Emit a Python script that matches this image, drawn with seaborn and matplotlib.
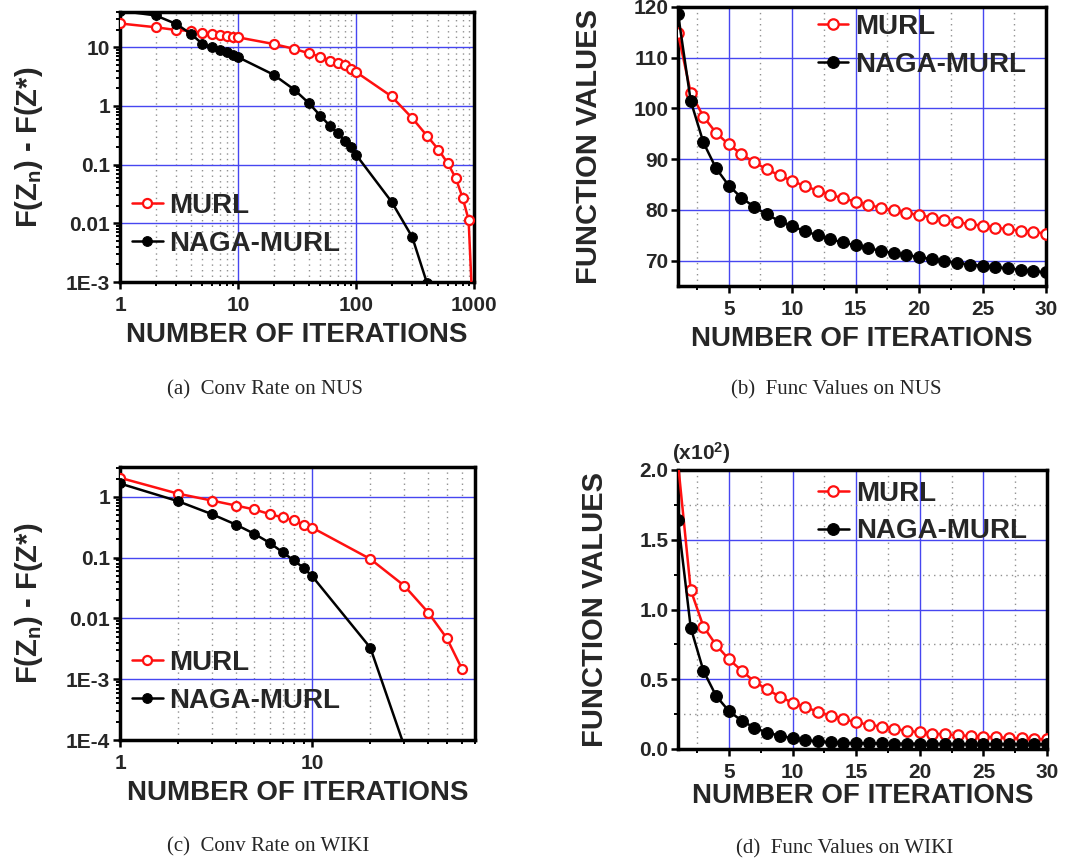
import matplotlib
matplotlib.use("Agg")
import matplotlib.pyplot as plt
import matplotlib.ticker as mticker
import pandas as pd
import seaborn as sns

# ---------------- data ----------------
# (a) NUS: objective gap vs. iteration (log-log)
nus_gap_iters_murl = [1, 2, 3, 4, 5, 6, 7, 8, 9, 10, 20, 30, 40, 50, 60, 70, 80, 90, 100,
                      200, 300, 400, 500, 600, 700, 800, 900, 1000]
nus_gap_murl = [25.5, 22, 19.7, 19, 17.6, 16.9, 16, 15.4, 15.2, 14.8, 11.4, 9.4, 7.9, 6.9,
                5.9, 5.4, 4.9, 4.3, 3.8, 1.46, 0.62, 0.31, 0.18, 0.105, 0.059, 0.0275,
                0.0115, 1e-4]
nus_gap_iters_naga = [1, 2, 3, 4, 5, 6, 7, 8, 9, 10, 20, 30, 40, 50, 60, 70, 80, 90, 100,
                      200, 300, 400]
nus_gap_naga = [42, 35, 25, 16.9, 11.4, 10, 9, 8.2, 7.5, 6.8, 3.42, 1.9, 1.11, 0.68, 0.46,
                0.34, 0.257, 0.2, 0.148, 0.0234, 0.0058, 0.00095]

# (b) NUS: objective value per iteration
func_iters = list(range(1, 31))
nus_func_murl = [114.8, 103.1, 98.4, 95.2, 92.9, 91.0, 89.4, 88.0, 86.8, 85.7, 84.7, 83.8,
                 83.0, 82.3, 81.6, 81.0, 80.4, 79.9, 79.4, 79.0, 78.5, 78.0, 77.6, 77.2,
                 76.9, 76.5, 76.2, 75.9, 75.7, 75.3]
nus_func_naga = [118.7, 101.5, 93.3, 88.2, 84.8, 82.4, 80.6, 79.1, 77.8, 76.8, 75.8, 75.0,
                 74.2, 73.6, 73.0, 72.5, 71.9, 71.5, 71.1, 70.7, 70.3, 69.9, 69.6, 69.2,
                 69.0, 68.7, 68.5, 68.2, 67.9, 67.7]

# (c) WIKI: objective gap vs. iteration (log-log)
wiki_gap_iters_murl = [1, 2, 3, 4, 5, 6, 7, 8, 9, 10, 20, 30, 40, 50, 60]
wiki_gap_murl = [2.06, 1.13, 0.87, 0.72, 0.62, 0.52, 0.46, 0.41, 0.35, 0.31, 0.095, 0.0346,
                 0.0125, 0.0047, 0.00146]
wiki_gap_iters_naga = [1, 2, 3, 4, 5, 6, 7, 8, 9, 10, 20, 30]
wiki_gap_naga = [1.66, 0.85, 0.52, 0.35, 0.246, 0.175, 0.123, 0.090, 0.068, 0.049, 0.0033,
                 8e-5]

# (d) WIKI: objective value per iteration, in units of 10^2
wiki_func_murl = [2.05, 1.14, 0.877, 0.745, 0.643, 0.562, 0.483, 0.428, 0.375, 0.332, 0.299,
                  0.268, 0.239, 0.215, 0.191, 0.174, 0.160, 0.143, 0.131, 0.119, 0.110,
                  0.105, 0.098, 0.093, 0.088, 0.084, 0.079, 0.076, 0.072, 0.069]
wiki_func_naga = [1.64, 0.87, 0.56, 0.38, 0.272, 0.203, 0.153, 0.117, 0.096, 0.076, 0.062,
                  0.055, 0.048, 0.043, 0.042, 0.041, 0.040, 0.039, 0.038, 0.038, 0.037,
                  0.037, 0.036, 0.036, 0.035, 0.035, 0.035, 0.034, 0.034, 0.034]

series_names = ["MURL", "NAGA-MURL"]
gap_ticks_nus = [1e-3, 1e-2, 1e-1, 1, 10]
gap_ticklabels_nus = ["1E-3", "0.01", "0.1", "1", "10"]
gap_ticks_wiki = [1e-4, 1e-3, 1e-2, 1e-1, 1]
gap_ticklabels_wiki = ["1E-4", "1E-3", "0.01", "0.1", "1"]
iter_ticks_nus = [1, 10, 100, 1000]
iter_ticks_wiki = [1, 10]
captions = ["(a)  Conv Rate on NUS", "(b)  Func Values on NUS",
            "(c)  Conv Rate on WIKI", "(d)  Func Values on WIKI"]

# ---------------- style ----------------
sns.set_theme(style="white")
plt.rcParams["font.family"] = ["Liberation Sans", "DejaVu Sans"]
plt.rcParams["font.weight"] = "bold"
plt.rcParams["mathtext.fontset"] = "custom"
plt.rcParams["mathtext.rm"] = "Liberation Sans:bold"
plt.rcParams["mathtext.bf"] = "Liberation Sans:bold"
plt.rcParams["mathtext.it"] = "Liberation Sans:bold"

RED = "#ff1010"
BLUE = "#4646f0"
TICK_FS = 15
LABEL_FS = 20
LEG_FS = 20

fig = plt.figure(figsize=(10.78, 8.65), dpi=100)
W, H = 1078.0, 865.0


def add_axes(left, top, right, bottom):
    return fig.add_axes([left / W, 1 - bottom / H, (right - left) / W, (bottom - top) / H])


ax_a = add_axes(120, 12, 474, 282)
ax_b = add_axes(678, 7, 1046, 286)
ax_c = add_axes(120, 467, 475, 740)
ax_d = add_axes(678, 470, 1047, 749)


def draw_pair(ax, x1, y1, x2, y2, ms_red, ms_black):
    df1 = pd.DataFrame({"iter": x1, "val": y1})
    df2 = pd.DataFrame({"iter": x2, "val": y2})
    sns.lineplot(data=df1, x="iter", y="val", ax=ax, color=RED, lw=1.8, marker="o",
                 markersize=ms_red, markerfacecolor="white", markeredgecolor=RED,
                 markeredgewidth=1.6, label=series_names[0], zorder=4)
    sns.lineplot(data=df2, x="iter", y="val", ax=ax, color="black", lw=1.8, marker="o",
                 markersize=ms_black, markerfacecolor="black", markeredgecolor="black",
                 label=series_names[1], zorder=5)


def style_axes(ax):
    for s in ax.spines.values():
        s.set_visible(True)
        s.set_linewidth(2.5)
        s.set_color("black")
    ax.tick_params(which="major", direction="out", length=5, width=1.8, color="black",
                   labelsize=TICK_FS, top=False, right=False, left=True, bottom=True)
    ax.tick_params(axis="y", which="major", pad=2)
    ax.tick_params(axis="x", which="major", pad=5)
    ax.tick_params(which="minor", direction="out", length=3, width=1.4, color="black",
                   top=False, right=False, left=True, bottom=True)
    for lab in ax.get_xticklabels() + ax.get_yticklabels():
        lab.set_fontweight("bold")
    ax.set_axisbelow(True)
    ax.grid(which="major", color=BLUE, lw=1.0, ls="-")


def legend(ax, anchor):
    leg = ax.legend(loc="upper left", bbox_to_anchor=anchor, frameon=False,
                    prop={"size": LEG_FS, "weight": "bold"}, handlelength=1.1,
                    handletextpad=0.25, labelspacing=0.42, borderpad=0, borderaxespad=0)
    return leg


# (a)
draw_pair(ax_a, nus_gap_iters_murl, nus_gap_murl, nus_gap_iters_naga, nus_gap_naga, 6.5, 7)
ax_a.set_xscale("log")
ax_a.set_yscale("log")
ax_a.set_xlim(1, 1000)
ax_a.set_ylim(1e-3, 40)
ax_a.xaxis.set_major_locator(mticker.FixedLocator(iter_ticks_nus))
ax_a.xaxis.set_major_formatter(mticker.FixedFormatter([str(t) for t in iter_ticks_nus]))
ax_a.yaxis.set_major_locator(mticker.FixedLocator(gap_ticks_nus))
ax_a.yaxis.set_major_formatter(mticker.FixedFormatter(gap_ticklabels_nus))
ax_a.xaxis.set_minor_locator(mticker.LogLocator(subs=range(2, 10), numticks=20))
ax_a.yaxis.set_minor_locator(mticker.LogLocator(subs=range(2, 10), numticks=20))
ax_a.xaxis.set_minor_formatter(mticker.NullFormatter())
ax_a.yaxis.set_minor_formatter(mticker.NullFormatter())
style_axes(ax_a)
ax_a.grid(which="minor", axis="x", color="#909090", lw=1.0, ls=(0, (1, 3)))
legend(ax_a, (0.034, 0.33))

# (c)
draw_pair(ax_c, wiki_gap_iters_murl, wiki_gap_murl, wiki_gap_iters_naga, wiki_gap_naga, 6.5, 7)
ax_c.set_xscale("log")
ax_c.set_yscale("log")
ax_c.set_xlim(1, 70)
ax_c.set_ylim(1e-4, 3.1)
ax_c.xaxis.set_major_locator(mticker.FixedLocator(iter_ticks_wiki))
ax_c.xaxis.set_major_formatter(mticker.FixedFormatter([str(t) for t in iter_ticks_wiki]))
ax_c.yaxis.set_major_locator(mticker.FixedLocator(gap_ticks_wiki))
ax_c.yaxis.set_major_formatter(mticker.FixedFormatter(gap_ticklabels_wiki))
ax_c.xaxis.set_minor_locator(mticker.LogLocator(subs=range(2, 10), numticks=20))
ax_c.yaxis.set_minor_locator(mticker.LogLocator(subs=range(2, 10), numticks=20))
ax_c.xaxis.set_minor_formatter(mticker.NullFormatter())
ax_c.yaxis.set_minor_formatter(mticker.NullFormatter())
style_axes(ax_c)
ax_c.grid(which="minor", axis="x", color="#909090", lw=1.0, ls=(0, (1, 3)))
legend(ax_c, (0.034, 0.33))

# (b)
draw_pair(ax_b, func_iters, nus_func_murl, func_iters, nus_func_naga, 7.5, 8.5)
ax_b.set_xlim(1, 30)
ax_b.set_ylim(65, 120)
ax_b.xaxis.set_major_locator(mticker.MultipleLocator(5))
ax_b.xaxis.set_minor_locator(mticker.MultipleLocator(2.5))
ax_b.yaxis.set_major_locator(mticker.MultipleLocator(10))
ax_b.yaxis.set_major_formatter(mticker.FormatStrFormatter("%d"))
ax_b.xaxis.set_major_formatter(mticker.FuncFormatter(lambda v, p: "" if v < 4 else "%d" % v))
style_axes(ax_b)
ax_b.grid(which="minor", axis="x", color="#909090", lw=1.0, ls=(0, (1, 3)))
legend(ax_b, (0.38, 0.975))

# (d)
draw_pair(ax_d, func_iters, wiki_func_murl, func_iters, wiki_func_naga, 7.5, 8.5)
ax_d.set_xlim(1, 30)
ax_d.set_ylim(0, 2.0)
ax_d.xaxis.set_major_locator(mticker.MultipleLocator(5))
ax_d.xaxis.set_minor_locator(mticker.MultipleLocator(2.5))
ax_d.yaxis.set_major_locator(mticker.MultipleLocator(0.5))
ax_d.yaxis.set_minor_locator(mticker.MultipleLocator(0.25))
ax_d.yaxis.set_major_formatter(mticker.FormatStrFormatter("%.1f"))
ax_d.xaxis.set_major_formatter(mticker.FuncFormatter(lambda v, p: "" if v < 4 else "%d" % v))
style_axes(ax_d)
ax_d.grid(which="minor", axis="both", color="#909090", lw=1.0, ls=(0, (1, 3)))
legend(ax_d, (0.38, 0.962))
ax_d.text(0.062, 1.062, r"(x10$^{\mathbf{2}}$)", transform=ax_d.transAxes, ha="center",
          va="center", fontsize=15, fontweight="bold")

# axis labels
gap_label = r"F(Z$_{\mathbf{n}}$) - F(Z*)"
for ax in (ax_a, ax_c):
    ax.set_ylabel(gap_label, fontsize=21, fontweight="bold", labelpad=15)
for ax in (ax_b, ax_d):
    ax.set_ylabel("FUNCTION VALUES", fontsize=21, fontweight="bold", labelpad=22)
for ax in (ax_a, ax_b, ax_c):
    ax.set_xlabel("NUMBER OF ITERATIONS", fontsize=LABEL_FS, fontweight="bold", labelpad=5)
ax_d.set_xlabel("NUMBER OF ITERATIONS", fontsize=LABEL_FS, fontweight="bold", labelpad=1)

# sub-figure captions
cap_pos = [(265, 390), (836, 390), (268, 847), (845, 849)]
for (cx, cy), txt in zip(cap_pos, captions):
    fig.text(cx / W, 1 - cy / H, txt, ha="center", va="center", fontsize=15,
             family="Liberation Serif", fontweight="normal")

fig.savefig("out.png", dpi=100, facecolor="white")
